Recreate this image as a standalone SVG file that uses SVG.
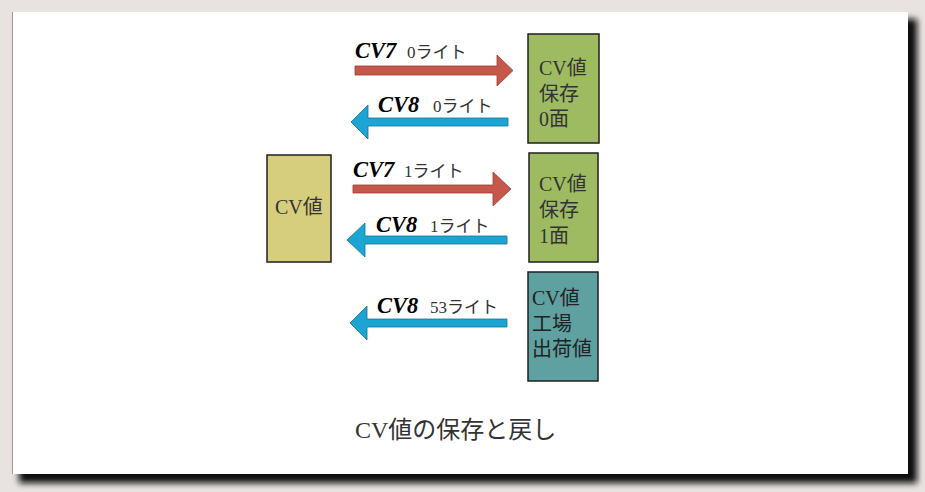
<svg xmlns="http://www.w3.org/2000/svg" width="925" height="492" viewBox="0 0 925 492">
  <defs>
    <filter id="shadow" x="-5%" y="-5%" width="110%" height="115%">
      <feGaussianBlur stdDeviation="3"/>
    </filter>
  </defs>
  <style>
    .box { stroke: #1f1f1f; stroke-width: 1.5; }
    .btxt { font-family: "Liberation Serif", "Noto Sans CJK JP", serif; font-size: 20px; fill: #333333; }
    .dark { fill: #222222; }
    .cv { font-family: "Liberation Serif", serif; font-size: 22.5px; font-weight: bold; font-style: italic; fill: #000000; }
    .lbl { font-family: "Liberation Serif", "Noto Sans CJK JP", serif; font-size: 17px; fill: #333333; }
    .red { fill: #c5584b; stroke: #9e3e33; stroke-width: 0.8; }
    .blue { fill: #1ca4d3; stroke: #12759a; stroke-width: 0.8; }
    .title { font-family: "Liberation Serif", "Noto Sans CJK JP", serif; font-size: 24px; fill: #333333; }
  </style>

  <!-- background and card -->
  <rect x="0" y="0" width="925" height="492" fill="#e8e2e0"/>
  <rect x="19" y="19" width="898" height="464" fill="#111111" filter="url(#shadow)"/>
  <rect x="12" y="12" width="896" height="462" fill="#ffffff"/>
  <line x1="12.5" y1="12" x2="12.5" y2="474" stroke="#9a9a9a" stroke-width="1"/>

  <!-- nodes -->
  <g id="node-cv">
    <rect class="box" x="267" y="155" width="64" height="107" fill="#d6cd7d"/>
    <text class="btxt" x="275" y="214">CV値</text>
  </g>
  <g id="node-save0">
    <rect class="box" x="528" y="34" width="71" height="109" fill="#9fbb62"/>
    <text class="btxt" x="539" y="75">CV値</text>
    <text class="btxt" x="539" y="101">保存</text>
    <text class="btxt" x="539" y="126">0面</text>
  </g>
  <g id="node-save1">
    <rect class="box" x="529" y="153" width="69" height="109" fill="#9fbb62"/>
    <text class="btxt" x="539" y="191">CV値</text>
    <text class="btxt" x="539" y="217">保存</text>
    <text class="btxt" x="539" y="243">1面</text>
  </g>
  <g id="node-factory">
    <rect class="box" x="528" y="272" width="70" height="109" fill="#5fa0a1"/>
    <text class="btxt dark" x="532" y="305">CV値</text>
    <text class="btxt dark" x="532" y="331">工場</text>
    <text class="btxt dark" x="532" y="356">出荷値</text>
  </g>

  <!-- connectors -->
  <g id="connectors">
    <g id="arrow-cv7-0">
      <polygon class="red" points="355,66 497,66 497,55 513,70.5 497,86 497,75 355,75"/>
      <text class="cv" x="355" y="58">CV7</text>
      <text class="lbl" x="407" y="58">0ライト</text>
    </g>
    <g id="arrow-cv8-0">
      <polygon class="blue" points="508,118 368,118 368,105 351,122 368,139 368,126 508,126"/>
      <text class="cv" x="378" y="112">CV8</text>
      <text class="lbl" x="433" y="112">0ライト</text>
    </g>
    <g id="arrow-cv7-1">
      <polygon class="red" points="353,185 493,185 493,172 511,189 493,206 493,193 353,193"/>
      <text class="cv" x="353" y="177">CV7</text>
      <text class="lbl" x="404" y="177">1ライト</text>
    </g>
    <g id="arrow-cv8-1">
      <polygon class="blue" points="507,236 365,236 365,223 347,240 365,257 365,244 507,244"/>
      <text class="cv" x="376" y="232">CV8</text>
      <text class="lbl" x="430" y="232">1ライト</text>
    </g>
    <g id="arrow-cv8-53">
      <polygon class="blue" points="507,319 367,319 367,306 350,323 367,340 367,327 507,327"/>
      <text class="cv" x="377" y="313">CV8</text>
      <text class="lbl" x="430" y="313">53ライト</text>
    </g>
  </g>

  <text class="title" x="355" y="438">CV値の保存と戻し</text>
</svg>
